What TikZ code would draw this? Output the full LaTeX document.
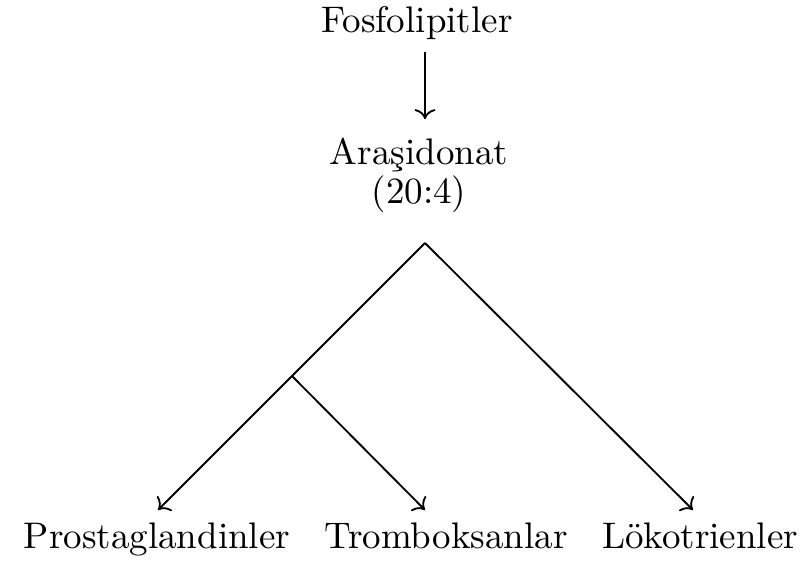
\documentclass[tikz,border=0pt]{standalone}
\usepackage{fontspec}
\usepackage{tikz}
\usetikzlibrary{positioning, arrows.meta, calc}

\begin{document}
\begin{tikzpicture}[x=0.2703pt, y=-0.2703pt,
    lbl/.style={anchor=base, inner sep=0.3333em},
    conn/.style={->, line width=0.5pt}]
  \useasboundingbox (0,0) rectangle (806,560);
  % top of the cascade
  \node[lbl] (fos) at (417,32) {Fosfolipitler};
  \node[align=center] (ara) at (419,175) {Araşidonat\\[-1.5pt](20:4)};
  % branch points
  \coordinate (apex) at (425,243);
  \coordinate (fork) at (292,376);
  % products
  \node[lbl] (pro) at (157,548) {Prostaglandinler};
  \node[lbl] (tro) at (446,548) {Tromboksanlar};
  \node[lbl] (lok) at (700,548) {Lökotrienler};
  \coordinate (proend) at (158,510);
  \coordinate (troend) at (425,510);
  \coordinate (lokend) at (693,510);
  % arrows
  \draw[conn, shorten >=1.5pt] (fos.south -| apex) -- (ara.north -| apex);
  \draw[conn] (apex) -- (proend);
  \draw[conn] (fork) -- (troend);
  \draw[conn] (apex) -- (lokend);
\end{tikzpicture}
\end{document}
